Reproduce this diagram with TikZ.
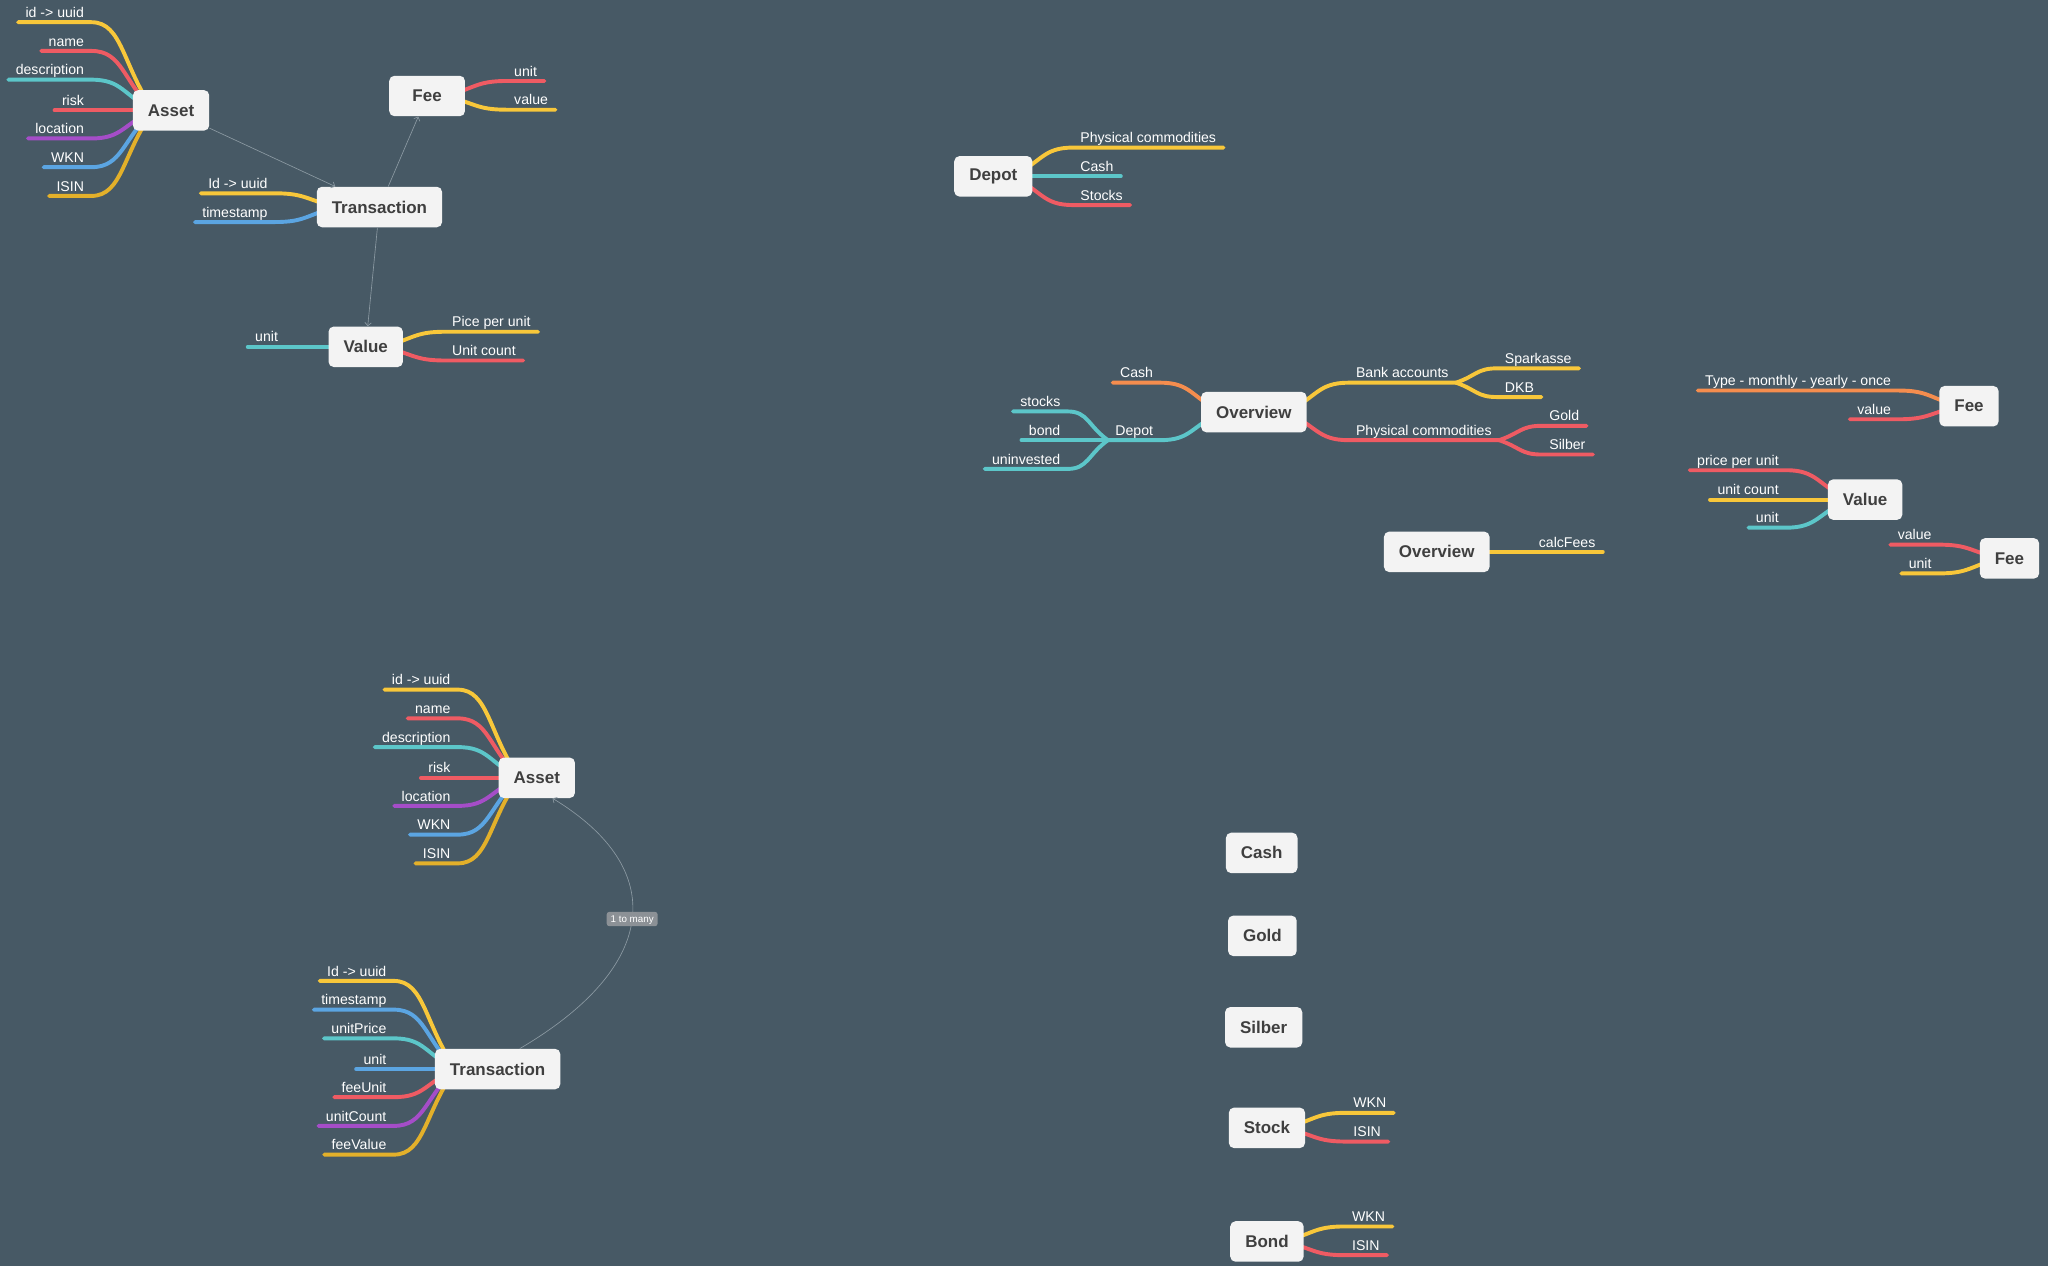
\documentclass[tikz,border=0pt]{standalone}
\usepackage{fontspec}
\setmainfont{Liberation Sans}
\usetikzlibrary{calc,arrows.meta}

\definecolor{bgc}{HTML}{475965}
\definecolor{boxc}{HTML}{F3F3F3}
\definecolor{boxt}{HTML}{3F3F3F}
\definecolor{yel}{HTML}{F8C73A}
\definecolor{dyel}{HTML}{E3B02A}
\definecolor{red}{HTML}{EF5B63}
\definecolor{teal}{HTML}{5CC6C9}
\definecolor{purp}{HTML}{A54DC8}
\definecolor{blu}{HTML}{5BA5E2}
\definecolor{oran}{HTML}{F58D4E}
\definecolor{linkc}{HTML}{8C9AA3}
\definecolor{tagc}{HTML}{8C9196}

\pgfdeclarelayer{back}
\pgfdeclarelayer{wires}
\pgfsetlayers{back,wires,main}

% branch whose label sits left of its bend
\newcommand\twigL[3]{\draw[twig=#1] let \p1=(#2.south east), \p2=(#3) in
  (#2.south west) -- (\p1) .. controls ({0.5*\x1+0.5*\x2},\y1) and ({0.5*\x1+0.5*\x2},{0.5*\y1+0.5*\y2}) .. (\p2);}
% branch whose label sits right of its bend
\newcommand\twigR[3]{\draw[twig=#1] let \p1=(#2.south west), \p2=(#3) in
  (#2.south east) -- (\p1) .. controls ({0.5*\x1+0.5*\x2},\y1) and ({0.5*\x1+0.5*\x2},{0.5*\y1+0.5*\y2}) .. (\p2);}

\tikzset{
  box/.style={fill=boxc, rounded corners=4pt, text=boxt,
    font=\bfseries\fontsize{13}{15}\selectfont,
    inner xsep=11.5pt, inner ysep=0pt, minimum height=31pt},
  lab/.style={text=white, font=\fontsize{10.8}{12}\selectfont,
    inner xsep=5.5pt, inner ysep=3.5pt, text depth=0pt, text height=8pt},
  labL/.style={lab, anchor=south east},
  labR/.style={lab, anchor=south west},
  twig/.style={draw=#1, line width=3pt, line cap=round},
  link/.style={draw=linkc, line width=0.5pt, -{Straight Barb[length=2.5pt,width=5pt]}},
  tag/.style={fill=tagc, text=white, font=\fontsize{7.5}{8}\selectfont,
    rounded corners=2pt, inner xsep=3pt, inner ysep=2.5pt, text height=5.5pt, text depth=0.5pt},
}

\begin{document}
\begin{tikzpicture}[x=1pt,y=1pt]
\begin{pgfonlayer}{back}
  \fill[bgc] (0,0) rectangle (1568,-969);
\end{pgfonlayer}
\useasboundingbox (0,0) rectangle (1568,-969);

% ---------- upper data model ----------
\node[box] (A1) at (131,-84.5) {Asset};
\node[box] (T1) at (290.5,-158.5) {Transaction};
\node[box, minimum width=58pt] (F1) at (327,-73.5) {Fee};
\node[box] (V1) at (280,-265.5) {Value};
\coordinate (A1o) at ([xshift=16pt]A1.west);
\coordinate (T1o) at ([xshift=16pt]T1.west);
\coordinate (V1l) at ([xshift=16pt]V1.west);
\coordinate (V1r) at ([xshift=-16pt]V1.east);
\coordinate (F1o) at ([xshift=-16pt]F1.east);

\node[labL] (a1a) at (70,-17) {id -> uuid};
\node[labL] (a1b) at (70,-39) {name};
\node[labL] (a1c) at (70,-61) {description};
\node[labL] (a1d) at (70,-84.5) {risk};
\node[labL] (a1e) at (70,-106) {location};
\node[labL] (a1f) at (70,-128) {WKN};
\node[labL] (a1g) at (70,-150) {ISIN};

\node[labL] (t1a) at (210.5,-148) {Id -> uuid};
\node[labL] (t1b) at (210.5,-170) {timestamp};

\node[labL] (v1a) at (218.5,-265.5) {unit};
\node[labR] (v1b) at (340.5,-254) {Pice per unit};
\node[labR] (v1c) at (340.5,-276) {Unit count};

\node[labR] (f1a) at (388,-62) {unit};
\node[labR] (f1b) at (388,-84) {value};

\begin{pgfonlayer}{wires}
  \twigL{yel}{a1a}{A1o}
  \twigL{red}{a1b}{A1o}
  \twigL{teal}{a1c}{A1o}
  \twigL{red}{a1d}{A1o}
  \twigL{purp}{a1e}{A1o}
  \twigL{blu}{a1f}{A1o}
  \twigL{dyel}{a1g}{A1o}
  \twigL{yel}{t1a}{T1o}
  \twigL{blu}{t1b}{T1o}
  \twigL{teal}{v1a}{V1l}
  \twigR{yel}{v1b}{V1r}
  \twigR{red}{v1c}{V1r}
  \twigR{red}{f1a}{F1o}
  \twigR{yel}{f1b}{F1o}
\end{pgfonlayer}

\draw[link] (A1) -- (T1);
\draw[link] (T1) -- (F1);
\draw[link] (T1) -- (V1);

% ---------- depot ----------
\node[box] (D) at (760.5,-135) {Depot};
\coordinate (Do) at ([xshift=-16pt]D.east);
\node[labR] (d1) at (821.5,-113) {Physical commodities};
\node[labR] (d2) at (821.5,-135) {Cash};
\node[labR] (d3) at (821.5,-157) {Stocks};
\begin{pgfonlayer}{wires}
  \twigR{yel}{d1}{Do}
  \twigR{teal}{d2}{Do}
  \twigR{red}{d3}{Do}
\end{pgfonlayer}

% ---------- overview ----------
\node[box] (O1) at (960,-315.5) {Overview};
\coordinate (O1l) at ([xshift=16pt]O1.west);
\coordinate (O1r) at ([xshift=-16pt]O1.east);
\node[labL] (o1a) at (888.5,-293) {Cash};
\node[labL] (dpl) at (888.5,-337) {Depot};
\node[labL] (o1c) at (817.5,-315) {stocks};
\node[labL] (o1d) at (817.5,-337) {bond};
\node[labL] (o1e) at (817.5,-359) {uninvested};
\node[labR] (bkl) at (1032.5,-293) {Bank accounts};
\node[labR] (phl) at (1032.5,-337) {Physical commodities};
\node[labR] (o1h) at (1146.5,-282) {Sparkasse};
\node[labR] (o1i) at (1146.5,-304) {DKB};
\node[labR] (o1j) at (1180.5,-326) {Gold};
\node[labR] (o1k) at (1180.5,-348) {Silber};
\begin{pgfonlayer}{wires}
  \twigL{oran}{o1a}{O1l}
  \twigL{teal}{dpl}{O1l}
  \twigL{teal}{o1c}{dpl.south west}
  \twigL{teal}{o1d}{dpl.south west}
  \twigL{teal}{o1e}{dpl.south west}
  \twigR{yel}{bkl}{O1r}
  \twigR{red}{phl}{O1r}
  \twigR{yel}{o1h}{bkl.south east}
  \twigR{yel}{o1i}{bkl.south east}
  \twigR{red}{o1j}{phl.south east}
  \twigR{red}{o1k}{phl.south east}
\end{pgfonlayer}

% ---------- fee / value notes ----------
\node[box] (F2) at (1507.5,-311) {Fee};
\coordinate (F2o) at ([xshift=16pt]F2.west);
\node[labL] (f2a) at (1453.5,-299) {Type - monthly - yearly - once};
\node[labL] (f2b) at (1453.5,-321) {value};

\node[box] (V2) at (1428,-382.5) {Value};
\coordinate (V2o) at ([xshift=16pt]V2.west);
\node[labL] (v2a) at (1367.5,-360) {price per unit};
\node[labL] (v2b) at (1367.5,-382.5) {unit count};
\node[labL] (v2c) at (1367.5,-404) {unit};

\node[box] (F3) at (1538.5,-427.5) {Fee};
\coordinate (F3o) at ([xshift=16pt]F3.west);
\node[labL] (f3a) at (1484.5,-417) {value};
\node[labL] (f3b) at (1484.5,-439) {unit};

\node[box] (O2) at (1100,-422.5) {Overview};
\coordinate (O2o) at ([xshift=-16pt]O2.east);
\node[labR] (o2a) at (1172.5,-422.5) {calcFees};

\begin{pgfonlayer}{wires}
  \twigL{oran}{f2a}{F2o}
  \twigL{red}{f2b}{F2o}
  \twigL{red}{v2a}{V2o}
  \twigL{yel}{v2b}{V2o}
  \twigL{teal}{v2c}{V2o}
  \twigL{red}{f3a}{F3o}
  \twigL{yel}{f3b}{F3o}
  \twigR{yel}{o2a}{O2o}
\end{pgfonlayer}

% ---------- lower data model ----------
\node[box] (A2) at (411,-595.5) {Asset};
\coordinate (A2o) at ([xshift=16pt]A2.west);
\node[labL] (a2a) at (350.5,-528) {id -> uuid};
\node[labL] (a2b) at (350.5,-550) {name};
\node[labL] (a2c) at (350.5,-572) {description};
\node[labL] (a2d) at (350.5,-595.5) {risk};
\node[labL] (a2e) at (350.5,-617) {location};
\node[labL] (a2f) at (350.5,-639) {WKN};
\node[labL] (a2g) at (350.5,-661) {ISIN};

\node[box] (T2) at (381,-818.5) {Transaction};
\coordinate (T2o) at ([xshift=16pt]T2.west);
\node[labL] (t2a) at (301.5,-751) {Id -> uuid};
\node[labL] (t2b) at (301.5,-773) {timestamp};
\node[labL] (t2c) at (301.5,-795) {unitPrice};
\node[labL] (t2d) at (301.5,-818.5) {unit};
\node[labL] (t2e) at (301.5,-840) {feeUnit};
\node[labL] (t2f) at (301.5,-862) {unitCount};
\node[labL] (t2g) at (301.5,-884) {feeValue};

\begin{pgfonlayer}{wires}
  \twigL{yel}{a2a}{A2o}
  \twigL{red}{a2b}{A2o}
  \twigL{teal}{a2c}{A2o}
  \twigL{red}{a2d}{A2o}
  \twigL{purp}{a2e}{A2o}
  \twigL{blu}{a2f}{A2o}
  \twigL{dyel}{a2g}{A2o}
  \twigL{yel}{t2a}{T2o}
  \twigL{blu}{t2b}{T2o}
  \twigL{teal}{t2c}{T2o}
  \twigL{blu}{t2d}{T2o}
  \twigL{red}{t2e}{T2o}
  \twigL{purp}{t2f}{T2o}
  \twigL{dyel}{t2g}{T2o}
\end{pgfonlayer}

\draw[link] ([xshift=17pt]T2.north) .. controls (505,-740) and (512,-665)
  .. node[tag, pos=0.5] {1 to many} ([xshift=12pt]A2.south);

% ---------- asset kinds ----------
\node[box] (Cs) at (966,-653) {Cash};
\node[box] (Gd) at (966.5,-716.5) {Gold};
\node[box] (Sb) at (967.5,-786.5) {Silber};
\node[box] (Sk) at (970,-863.5) {Stock};
\node[box] (Bd) at (970,-950.5) {Bond};
\coordinate (Sko) at ([xshift=-16pt]Sk.east);
\coordinate (Bdo) at ([xshift=-16pt]Bd.east);
\node[labR] (s1) at (1030.5,-852) {WKN};
\node[labR] (s2) at (1030.5,-874) {ISIN};
\node[labR] (b1) at (1029.5,-939) {WKN};
\node[labR] (b2) at (1029.5,-961) {ISIN};
\begin{pgfonlayer}{wires}
  \twigR{yel}{s1}{Sko}
  \twigR{red}{s2}{Sko}
  \twigR{yel}{b1}{Bdo}
  \twigR{red}{b2}{Bdo}
\end{pgfonlayer}
\end{tikzpicture}
\end{document}
